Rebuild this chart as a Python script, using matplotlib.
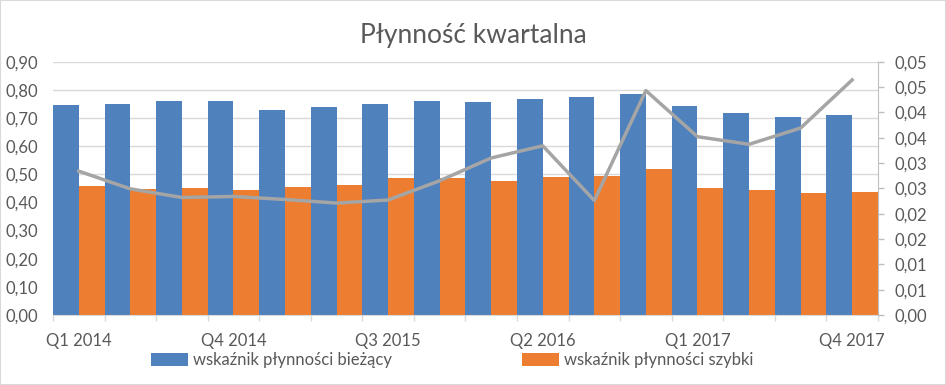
import math
import matplotlib
matplotlib.use("Agg")
import matplotlib.pyplot as plt
from matplotlib.patches import Rectangle

plt.rcParams['font.family'] = ['Lato', 'DejaVu Sans']

# dane kwartalne
quarters = ["Q1 2014", "Q2 2014", "Q3 2014", "Q4 2014",
            "Q1 2015", "Q2 2015", "Q3 2015", "Q4 2015",
            "Q1 2016", "Q2 2016", "Q3 2016", "Q4 2016",
            "Q1 2017", "Q2 2017", "Q3 2017", "Q4 2017"]
biezacy = [0.746, 0.750, 0.760, 0.760, 0.728, 0.739, 0.750, 0.760,
           0.757, 0.768, 0.775, 0.785, 0.743, 0.718, 0.704, 0.711]
szybki = [0.458, 0.448, 0.451, 0.444, 0.455, 0.462, 0.487, 0.487,
          0.477, 0.491, 0.495, 0.520, 0.452, 0.445, 0.435, 0.438]
trzeci = [0.0284, 0.0249, 0.0232, 0.0234, 0.0228, 0.0221, 0.0227, 0.0265,
          0.0310, 0.0334, 0.0226, 0.0443, 0.0352, 0.0337, 0.0369, 0.0464]

BLUE = "#4F81BD"
ORANGE = "#ED7D31"
GRAY = "#A5A5A5"
TXT = "#595959"
GRID = "#D9D9D9"


def pl_fmt(v):
    # zaokraglenie jak w Excelu (half-up), przecinek dziesietny
    r = math.floor(v * 100 + 0.5 + 1e-9) / 100
    return f"{r:.2f}".replace(".", ",")


fig = plt.figure(figsize=(9.46, 3.85), dpi=100)
ax = fig.add_axes([0.056, 0.1818, 0.872, 0.6579])

x = list(range(len(quarters)))
ax.bar([i - 0.25 for i in x], biezacy, width=0.5, color=BLUE,
       label="wskaźnik płynności bieżący", zorder=2)
ax.bar([i + 0.25 for i in x], szybki, width=0.5, color=ORANGE,
       label="wskaźnik płynności szybki", zorder=2)

ax.set_xlim(-0.5, len(quarters) - 0.5)
ax.set_ylim(0, 0.9)
ax.set_yticks([i / 10 for i in range(10)])
ax.set_yticklabels([pl_fmt(i / 10) for i in range(10)])
ax.yaxis.grid(True, color=GRID, linewidth=1.0, zorder=0)
ax.set_axisbelow(True)

ax.set_xticks([i for i in x if i % 3 == 0])
ax.set_xticklabels([quarters[i] for i in x if i % 3 == 0])
ax.set_xticks([i - 0.5 for i in range(len(quarters) + 1)], minor=True)
ax.tick_params(axis='x', which='major', length=0, pad=13, labelsize=12, colors=TXT)
ax.tick_params(axis='x', which='minor', length=4.3, color=GRID, width=1)
ax.tick_params(axis='y', length=0, pad=11, labelsize=12, colors=TXT)

for s in ['top', 'right', 'left']:
    ax.spines[s].set_visible(False)
ax.spines['bottom'].set_color(GRID)

ax2 = ax.twinx()
ax2.plot(x, trzeci, color=GRAY, linewidth=2.5, solid_joinstyle='round', zorder=3)
ax2.set_ylim(0, 0.05)
rt = [i * 0.005 for i in range(11)]
ax2.set_yticks(rt)
ax2.set_yticklabels([pl_fmt(v) for v in rt])
ax2.tick_params(axis='y', length=4, width=1, pad=8,
                labelsize=12, labelcolor=TXT, color="#BFBFBF")
for s in ['top', 'left', 'bottom']:
    ax2.spines[s].set_visible(False)
ax2.spines['right'].set_color("#BFBFBF")

fig.text(0.5, 0.908, "Płynność kwartalna", ha='center', va='center',
         fontsize=19, color=TXT)

fig.legend(loc='center', bbox_to_anchor=(0.478, 0.065), ncol=2, frameon=False,
           fontsize=12, handlelength=2.2, handleheight=0.8, handletextpad=0.3,
           columnspacing=7.8, labelcolor=TXT)

fig.patches.append(Rectangle((0, 0), 1, 1, transform=fig.transFigure,
                             fill=False, edgecolor=GRID, linewidth=1.5))

fig.savefig("out.png", dpi=100)
